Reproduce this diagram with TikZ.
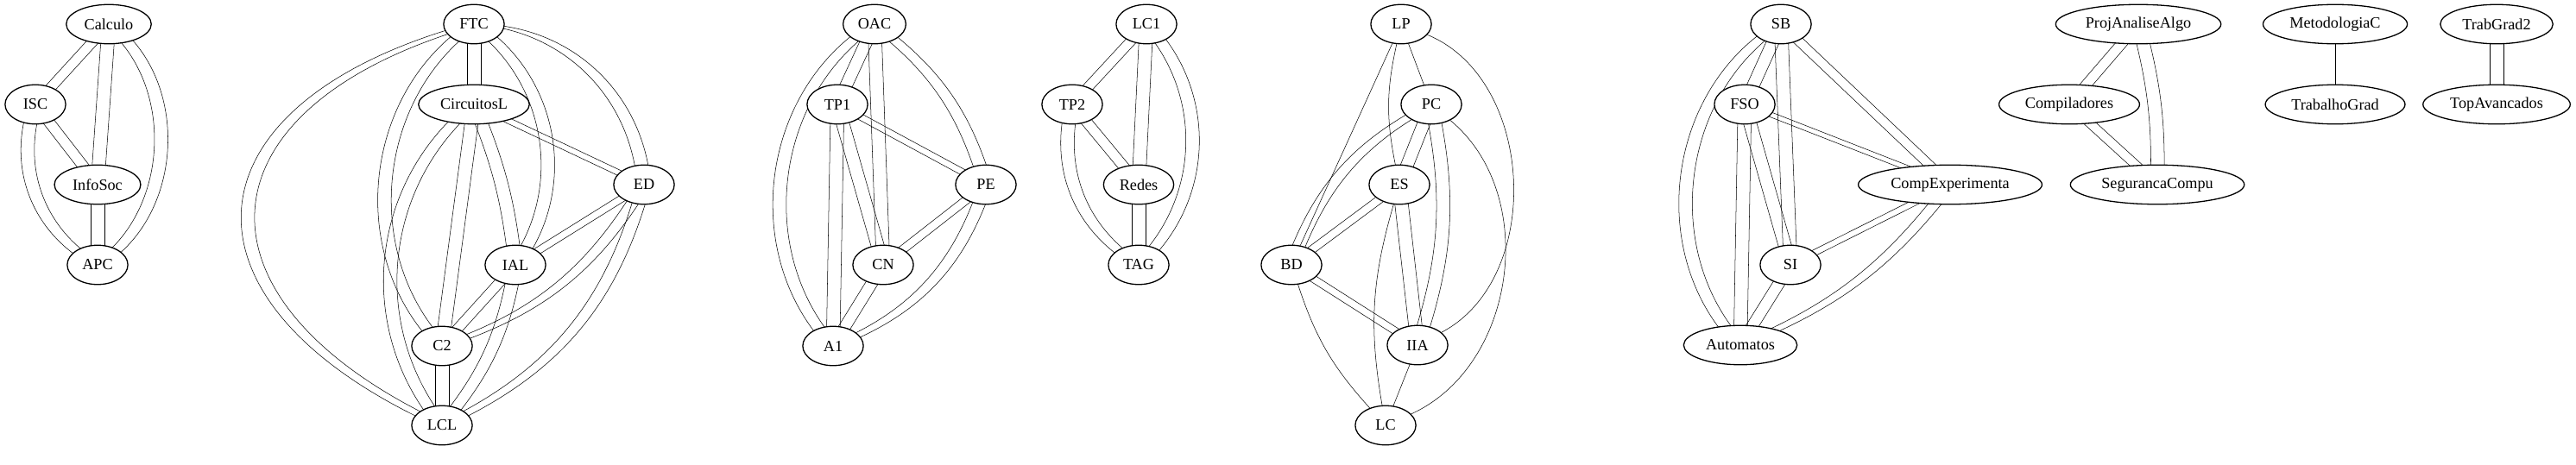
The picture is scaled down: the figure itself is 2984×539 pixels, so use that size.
\documentclass[tikz,border=0pt]{standalone}
\usepackage{fontspec}
\setmainfont{Liberation Serif}
\usetikzlibrary{shapes.geometric,calc,backgrounds}

\tikzset{
	course/.style={ellipse,draw,fill=white,minimum height=35pt,minimum width=54pt,inner xsep=5pt,font=\fontsize{14}{16}\selectfont}
}

\begin{document}
\begin{tikzpicture}[x=0.769pt,y=-0.769pt,line width=1pt]
	\useasboundingbox (0,0) rectangle (2984,539);

	\node[course] (Calculo) at (126,28) {Calculo};
	\node[course] (ISC) at (41,121) {ISC};
	\node[course] (InfoSoc) at (113,214) {InfoSoc};
	\node[course] (APC) at (113,307) {APC};

	\node[course] (FTC) at (549,28) {FTC};
	\node[course] (CircuitosL) at (549,121) {CircuitosL};
	\node[course] (ED) at (746,214) {ED};
	\node[course] (IAL) at (597,307) {IAL};
	\node[course] (C2) at (512,401) {C2};
	\node[course] (LCL) at (512,493) {LCL};

	\node[course] (OAC) at (1013,28) {OAC};
	\node[course] (TP1) at (970,121) {TP1};
	\node[course] (PE) at (1142,214) {PE};
	\node[course] (CN) at (1023,307) {CN};
	\node[course] (A1) at (965,401) {A1};

	\node[course] (LC1) at (1328,28) {LC1};
	\node[course] (TP2) at (1242,121) {TP2};
	\node[course] (Redes) at (1319,214) {Redes};
	\node[course] (TAG) at (1319,307) {TAG};

	\node[course] (LP) at (1623,28) {LP};
	\node[course] (PC) at (1658,121) {PC};
	\node[course] (ES) at (1621,214) {ES};
	\node[course] (BD) at (1496,307) {BD};
	\node[course] (IIA) at (1642,400) {IIA};
	\node[course] (LC) at (1605,493) {LC};

	\node[course] (SB) at (2063,28) {SB};
	\node[course] (FSO) at (2021,121) {FSO};
	\node[course] (CompExperimenta) at (2259,214) {CompExperimenta};
	\node[course] (SI) at (2074,307) {SI};
	\node[course] (Automatos) at (2016,400) {Automatos};

	\node[course] (ProjAnaliseAlgo) at (2477,28) {ProjAnaliseAlgo};
	\node[course] (Compiladores) at (2397,121) {Compiladores};
	\node[course] (SegurancaCompu) at (2499,214) {SegurancaCompu};

	\node[course] (MetodologiaC) at (2705,28) {MetodologiaC};
	\node[course] (TrabalhoGrad) at (2705,121) {TrabalhoGrad};

	\node[course] (TrabGrad2) at (2892,28) {TrabGrad2};
	\node[course] (TopAvancados) at (2892,121) {TopAvancados};

	\begin{scope}[on background layer]
		% double edges: from/to/bend
		\foreach \a/\b/\bd in {Calculo/ISC/0, Calculo/InfoSoc/0, Calculo/APC/55, ISC/InfoSoc/0, ISC/APC/-40, InfoSoc/APC/0,
			FTC/CircuitosL/0, FTC/ED/42, FTC/IAL/46, FTC/C2/-50, CircuitosL/ED/0, CircuitosL/IAL/8, CircuitosL/C2/0,
			CircuitosL/LCL/-45, ED/IAL/0, ED/C2/20, ED/LCL/25, IAL/C2/0, IAL/LCL/15, C2/LCL/0,
			OAC/TP1/0, OAC/PE/18, OAC/CN/0, OAC/A1/-50, TP1/PE/0, TP1/CN/0, TP1/A1/0, PE/CN/0, PE/A1/25, CN/A1/0,
			LC1/TP2/0, LC1/Redes/0, LC1/TAG/45, TP2/Redes/0, TP2/TAG/-36, Redes/TAG/0,
			PC/ES/0, PC/BD/-21, PC/IIA/15, ES/BD/0, ES/IIA/0, BD/IIA/0,
			SB/FSO/0, SB/CompExperimenta/0, SB/SI/0, SB/Automatos/-51, FSO/CompExperimenta/0, FSO/SI/0, FSO/Automatos/0,
			CompExperimenta/SI/0, CompExperimenta/Automatos/15, SI/Automatos/0,
			ProjAnaliseAlgo/Compiladores/0, ProjAnaliseAlgo/SegurancaCompu/8, Compiladores/SegurancaCompu/0,
			TrabGrad2/TopAvancados/0}
			\foreach \o in {-6pt,6pt}
				\draw ($(\a)+(\o,0pt)$) to[bend left=\bd] ($(\b)+(\o,0pt)$);
		\foreach \o in {-6pt,6pt}
			\draw ($(FTC)+(\o,0pt)$) to[bend left=-70,looseness=1.9] ($(LCL)+(\o,0pt)$);

		% single edges
		\foreach \a/\b/\bd in {LP/PC/0, LP/ES/-12, LP/BD/0, LP/IIA/65, PC/LC/58, ES/LC/-13, BD/LC/-12, IIA/LC/0,
			MetodologiaC/TrabalhoGrad/0}
			\draw (\a) to[bend left=\bd] (\b);
	\end{scope}
\end{tikzpicture}
\end{document}
